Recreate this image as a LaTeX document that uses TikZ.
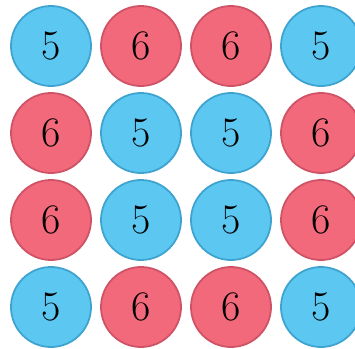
\documentclass[tikz,border=0pt]{standalone}
\usepackage{tikz}
\usepackage{xcolor}
\definecolor{fiveblue}{HTML}{5CC8F2}
\definecolor{fiveedge}{HTML}{3FA3CF}
\definecolor{sixred}{HTML}{F1697B}
\definecolor{sixedge}{HTML}{CF5366}

\begin{document}
\begin{tikzpicture}[x=1pt,y=-1pt,
  ball/.style={circle,minimum size=80pt,inner sep=0pt,line width=1.8pt,
    font=\fontsize{42}{42}\selectfont},
  b5/.style={ball,fill=fiveblue,draw=fiveedge},
  b6/.style={ball,fill=sixred,draw=sixedge}]
  \useasboundingbox (0,0) rectangle (355,348);
  \foreach \row/\vals in {1/{5,6,6,5},2/{6,5,5,6},3/{6,5,5,6},4/{5,6,6,5}} {
    \foreach \v [count=\col] in \vals {
      \node[b\v] (c\row\col) at ({51+90*(\col-1)},{46+87*(\row-1)}) {\v};
    }
  }
\end{tikzpicture}
\end{document}
